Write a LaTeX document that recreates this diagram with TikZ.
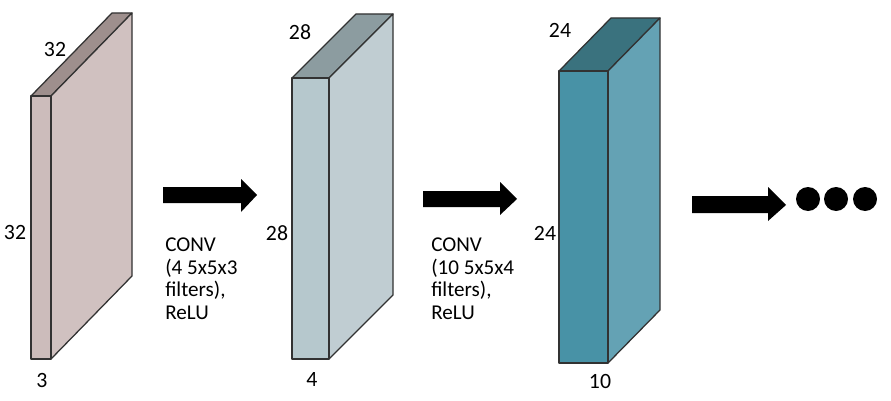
\documentclass[tikz,border=0pt]{standalone}
\usepackage{fontspec}
\setmainfont{Carlito}
\usepackage{xcolor}
\usepackage{tikz}
\usetikzlibrary{positioning}

\definecolor{inFront}{RGB}{204,188,187}
\definecolor{inSide}{RGB}{208,193,192}
\definecolor{inTop}{RGB}{158,143,141}
\definecolor{midFront}{RGB}{182,200,205}
\definecolor{midSide}{RGB}{192,205,210}
\definecolor{midTop}{RGB}{140,156,160}
\definecolor{outFront}{RGB}{72,146,166}
\definecolor{outSide}{RGB}{100,162,180}
\definecolor{outTop}{RGB}{58,114,126}
\definecolor{edge}{RGB}{50,50,50}

\tikzset{
  face/.style={draw=edge, line width=0.9pt, line join=round},
  dimlabel/.style={inner sep=0pt, font=\fontsize{15.5}{17}\selectfont},
  convtext/.style={inner sep=0pt, align=left, anchor=north west, font=\fontsize{15}{15.9}\selectfont},
}

\begin{document}
\begin{tikzpicture}[x=0.025cm, y=-0.025cm]
\useasboundingbox (0,0) rectangle (891,400);

% input volume 32x32x3
\filldraw[face, fill=inTop] (31,96) -- (112,13) -- (132,13) -- (51,96) -- cycle;
\filldraw[face, fill=inSide] (51,96) -- (132,13) -- (132,276) -- (51,359) -- cycle;
\filldraw[face, fill=inFront] (31,96) rectangle (51,359);
\node[dimlabel] (inW) at (55,50) {32};
\node[dimlabel] (inH) at (15,233) {32};
\node[dimlabel] (inD) at (42,380) {3};

% first conv layer 28x28x4
\filldraw[face, fill=midTop] (292,78) -- (356,14) -- (393,14) -- (329,78) -- cycle;
\filldraw[face, fill=midSide] (329,78) -- (393,14) -- (393,295) -- (329,359) -- cycle;
\filldraw[face, fill=midFront] (292,78) rectangle (329,359);
\node[dimlabel] (midW) at (300,32) {28};
\node[dimlabel] (midH) at (277,233) {28};
\node[dimlabel] (midD) at (312,379) {4};

% second conv layer 24x24x10
\filldraw[face, fill=outTop] (559,71) -- (611,18) -- (660,18) -- (608,71) -- cycle;
\filldraw[face, fill=outSide] (608,71) -- (660,18) -- (660,310) -- (608,363) -- cycle;
\filldraw[face, fill=outFront] (559,71) rectangle (608,363);
\node[dimlabel] (outW) at (560,30) {24};
\node[dimlabel] (outH) at (545,233) {24};
\node[dimlabel] (outD) at (600,381) {10};

% block arrows
\fill (163,187) -- (241,187) -- (241,179) -- (257,195) -- (241,212) -- (241,203) -- (163,203) -- cycle;
\fill (423,191) -- (500,191) -- (500,182) -- (517,199) -- (500,215) -- (500,207) -- (423,207) -- cycle;
\fill (692,196) -- (768,196) -- (768,187) -- (786,205) -- (768,221) -- (768,213) -- (692,213) -- cycle;

\node[convtext] (convA) at (165,238) {CONV\\(4 5x5x3\\filters),\\ReLU};
\node[convtext] (convB) at (431,238) {CONV\\(10 5x5x4\\filters),\\ReLU};

% more layers
\fill (808,199) circle (12) (836,199) circle (12) (865,199) circle (12);
\end{tikzpicture}
\end{document}
